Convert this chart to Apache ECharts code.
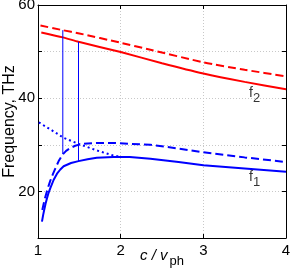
<!DOCTYPE html>
<html><head><meta charset="utf-8">
<script src="https://cdn.jsdelivr.net/npm/echarts@6/dist/echarts.min.js"></script>
<style>html,body{margin:0;padding:0;background:#fff}#c{width:291px;height:270px}</style>
</head><body><div id="c"></div>
<script>
// f2 upper branch (solid red) and dashed variant
const f2Solid = [[1.04,54.1],[1.3,53.05],[1.49,52.1],[2.0,49.9],[2.5,47.5],[3.0,45.3],[3.5,43.5],[4.0,41.9]];
const f2Dashed = [[1.03,55.6],[1.3,54.6],[1.5,53.9],[2.0,51.9],[2.36,50.4],[3.0,47.7],[3.5,46.1],[4.0,44.7]];
// f1 lower branch
const f1Solid = [[1.048,13.5],[1.062,14.9],[1.076,16.1],[1.092,17.4],[1.108,18.5],[1.128,19.7],[1.149,20.7],[1.19,22.5],[1.23,23.8],[1.27,24.7],[1.31,25.4],[1.4,26.1],[1.49,26.5],[1.6,26.9],[1.71,27.2],[1.91,27.4],[2.11,27.4],[2.36,27.0],[2.7,26.3],[3.0,25.6],[3.5,24.9],[4.0,24.2]];
const f1Dashed = [[1.052,16.0],[1.068,17.3],[1.085,18.6],[1.108,20.0],[1.128,21.2],[1.149,22.3],[1.18,23.7],[1.209,24.9],[1.25,26.5],[1.297,27.9],[1.34,28.7],[1.39,29.3],[1.45,29.8],[1.51,30.1],[1.6,30.3],[1.71,30.4],[1.91,30.4],[2.11,30.2],[2.36,30.0],[2.7,29.2],[3.0,28.4],[3.5,27.3],[4.0,26.3]];
const dotted = [[1.01,34.8],[1.15,33.3],[1.31,31.5],[1.49,30.2],[1.71,28.8],[1.91,27.7],[2.0,27.4]];
const vline1 = [[1.3,28.0],[1.3,54.6]];
const vline2 = [[1.49,26.5],[1.49,52.1]];
const xTicks = [1,2,3,4];
const yLabels = [20,40,60];

const chart = echarts.init(document.getElementById('c'));
const font = 'Liberation Sans, Arial, sans-serif';
const tickStyle = {show:true, inside:true, length:4, lineStyle:{color:'#000'}};
const gridLine = {show:true, lineStyle:{color:'#c8c8c8', type:[1,2], width:1}};
function line(data, color, type, width, smooth){
  return {type:'line', data, smooth:smooth||false, showSymbol:false, symbol:'none', animation:false,
    color, lineStyle:{color, type, width}, z:3};
}
chart.setOption({
  animation:false,
  grid:{left:38, top:5, right:5, bottom:32, show:false, outerBoundsMode:'none', containLabel:false},
  xAxis:[{type:'value', min:1, max:4, interval:1,
    axisLine:{show:true, lineStyle:{color:'#000'}}, axisTick:tickStyle,
    splitLine:gridLine,
    axisLabel:{color:'#000', fontSize:15, fontFamily:font, margin:5,
      formatter:v=>xTicks.includes(v)?String(v):''},
    name:'{i|c / v}{s|ph}', nameLocation:'middle', nameGap:5, nameMoveOverlap:false,
    nameTextStyle:{verticalAlign:'top', rich:{i:{fontSize:15, fontStyle:'italic', fontFamily:font, color:'#000'},
      s:{fontSize:13, fontFamily:font, color:'#000', padding:[12,0,0,2]}}}},
    {type:'value', min:1, max:4, interval:1, position:'top',
    axisLine:{show:true, lineStyle:{color:'#000'}}, axisTick:tickStyle, axisLabel:{show:false}, splitLine:{show:false}}],
  yAxis:[{type:'value', min:10, max:60, interval:10,
    axisLine:{show:true, lineStyle:{color:'#000'}}, axisTick:tickStyle,
    splitLine:gridLine,
    axisLabel:{color:'#000', fontSize:15, fontFamily:font, margin:3,
      formatter:v=>yLabels.includes(v)?String(v):''},
    name:'Frequency, THz', nameLocation:'middle', nameGap:20, nameMoveOverlap:false,
    nameTextStyle:{color:'#000', fontSize:16, fontFamily:font}},
    {type:'value', min:10, max:60, interval:10, position:'right',
    axisLine:{show:true, lineStyle:{color:'#000'}}, axisTick:tickStyle, axisLabel:{show:false}, splitLine:{show:false}}],
  series:[
    line(f2Dashed,'#ff0000',[8,4],2, 0.2),
    line(f2Solid,'#ff0000','solid',2, 0.2),
    line(f1Dashed,'#0000ff',[8,4],2),
    line(f1Solid,'#0000ff','solid',2),
    line(dotted,'#0000ff',[2,3],2),
    {type:'line', data:vline1, color:'#0000ff', showSymbol:false, symbol:'none', lineStyle:{color:'#0000ff', width:1}},
    {type:'line', data:vline2, color:'#0000ff', showSymbol:false, symbol:'none', lineStyle:{color:'#0000ff', width:1}},
    {type:'scatter', symbolSize:0, data:[[3.62,41,'2'],[3.62,23,'1']], z:5,
      label:{show:true, position:'inside', formatter:p=>'{f|f}{s|'+p.value[2]+'}',
        rich:{f:{fontSize:14, fontFamily:font, color:'#000'}, s:{fontSize:13, fontFamily:font, color:'#000', padding:[10,0,0,0]}}}}
  ]
});
</script></body></html>
